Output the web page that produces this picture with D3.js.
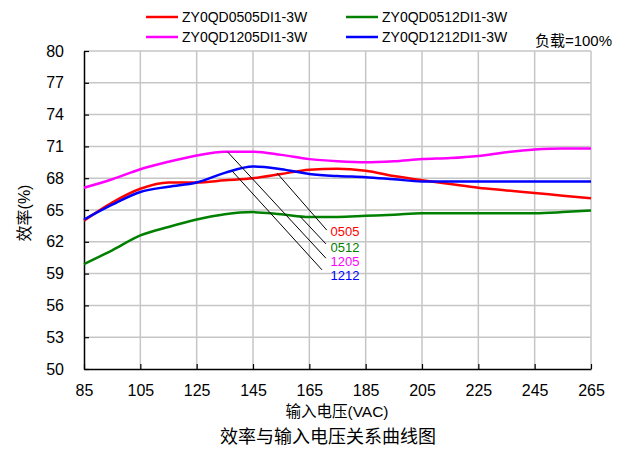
<!DOCTYPE html>
<html>
<head>
<meta charset="utf-8">
<script src="https://cdn.jsdelivr.net/npm/d3@7"></script>
<style>
  body { margin: 0; background: #fff; }
  text { font-family: "Liberation Sans", Arial, "Noto Sans CJK SC", sans-serif; }
  .cjk { font-family: "Liberation Sans", Arial, "Noto Sans CJK SC", sans-serif; }
</style>
</head>
<body>
<div id="canvas"></div>
<script>
width = 620;
height = 449;

// data
var volts = [85, 95, 105, 115, 125, 135, 145, 155, 165, 175, 185, 195, 205, 215, 225, 235, 245, 255, 265];
var eff0505 = [64.0, 65.7, 67.0, 67.6, 67.6, 67.8, 68.0, 68.4, 68.8, 68.9, 68.7, 68.2, 67.8, 67.45, 67.1, 66.85, 66.6, 66.35, 66.1];
var eff0512 = [59.9, 61.2, 62.6, 63.4, 64.1, 64.6, 64.8, 64.6, 64.35, 64.35, 64.45, 64.55, 64.7, 64.7, 64.7, 64.7, 64.7, 64.8, 64.95];
var eff1205 = [67.1, 67.9, 68.85, 69.55, 70.15, 70.5, 70.5, 70.2, 69.8, 69.6, 69.5, 69.6, 69.8, 69.9, 70.1, 70.45, 70.7, 70.8, 70.8];
var eff1212 = [64.1, 65.5, 66.7, 67.2, 67.6, 68.5, 69.1, 68.85, 68.4, 68.2, 68.1, 67.9, 67.7, 67.7, 67.7, 67.7, 67.7, 67.7, 67.7];

var seriesNames = ["ZY0QD0505DI1-3W", "ZY0QD0512DI1-3W", "ZY0QD1205DI1-3W", "ZY0QD1212DI1-3W"];
var shortNames = ["0505", "0512", "1205", "1212"];
var colors = ["#ff0000", "#008000", "#ff00ff", "#0000ff"];
var xTicks = [85, 105, 125, 145, 165, 185, 205, 225, 245, 265];
var yTicks = [50, 53, 56, 59, 62, 65, 68, 71, 74, 77, 80];

// leader lines: [volt, eff] on the curve -> [volt, eff] at the label
var leaderFrom = [[153.6, 68.46], [161.8, 64.37], [135.9, 70.5], [137.5, 68.7]];
var leaderTo = [[171.2, 63.1], [170.9, 61.8], [170.9, 60.45], [169.5, 59.35]];
var labelAt = [[172.5, 62.96], [172.5, 61.5], [172.5, 60.1], [172.5, 58.8]];

var allSeries = [eff0505, eff0512, eff1205, eff1212];

var margin = { left: 84, right: 29, top: 51, bottom: 80 };

var svg = d3.select("#canvas")
  .append("svg")
  .attr("width", width)
  .attr("height", height);

var x = d3.scaleLinear().domain([85, 265]).range([margin.left, width - margin.right]);
var y = d3.scaleLinear().domain([50, 80]).range([height - margin.bottom, margin.top]);

// grid
svg.append("g")
  .selectAll("line")
  .data(xTicks.slice(1))
  .join("line")
  .attr("x1", d => x(d)).attr("x2", d => x(d))
  .attr("y1", y(50)).attr("y2", y(80))
  .attr("stroke", "#c6c6c6")
  .attr("stroke-width", 1.5);

svg.append("g")
  .selectAll("line")
  .data(yTicks.slice(1))
  .join("line")
  .attr("x1", x(85)).attr("x2", x(265))
  .attr("y1", d => y(d)).attr("y2", d => y(d))
  .attr("stroke", "#c6c6c6")
  .attr("stroke-width", 1.5);

// axes
var xAxis = svg.append("g")
  .attr("transform", "translate(0," + y(50) + ")")
  .call(d3.axisBottom(x).tickValues(xTicks).tickSizeInner(-5).tickSizeOuter(0).tickPadding(22));
var yAxis = svg.append("g")
  .attr("transform", "translate(" + x(85) + ",0)")
  .call(d3.axisLeft(y).tickValues(yTicks).tickSizeInner(-5).tickSizeOuter(0).tickPadding(20));

[xAxis, yAxis].forEach(function (g) {
  g.select(".domain").attr("stroke", "#000").attr("stroke-width", 1.5);
  g.selectAll(".tick line").attr("stroke", "#000").attr("stroke-width", 1.2);
  g.selectAll(".tick text")
    .attr("fill", "#000")
    .style("font-size", "16px")
    .style("font-family", "'Liberation Sans', Arial, sans-serif");
});
xAxis.selectAll(".tick text").attr("dy", "0.32em");

// curves
var line = d3.line()
  .x((d, i) => x(volts[i]))
  .y(d => y(d))
  .curve(d3.curveMonotoneX);

svg.append("g")
  .selectAll("path")
  .data(allSeries)
  .join("path")
  .attr("d", d => line(d))
  .attr("fill", "none")
  .attr("stroke", (d, i) => colors[i])
  .attr("stroke-width", 2.5);

// leader lines and labels
svg.append("g")
  .selectAll("line")
  .data(leaderFrom)
  .join("line")
  .attr("x1", d => x(d[0])).attr("y1", d => y(d[1]))
  .attr("x2", (d, i) => x(leaderTo[i][0])).attr("y2", (d, i) => y(leaderTo[i][1]))
  .attr("stroke", "#000")
  .attr("stroke-width", 1);

svg.append("g")
  .selectAll("text")
  .data(labelAt)
  .join("text")
  .attr("x", d => x(d[0]))
  .attr("y", d => y(d[1]))
  .attr("dy", "0.35em")
  .attr("fill", (d, i) => colors[i])
  .style("font-size", "13px")
  .text((d, i) => shortNames[i]);

// legend
var legend = svg.append("g")
  .selectAll("g")
  .data(seriesNames)
  .join("g")
  .attr("transform", (d, i) => "translate(" + (146 + (i % 2) * 200) + "," + (17 + Math.floor(i / 2) * 20) + ")");

legend.append("line")
  .attr("x1", 0).attr("x2", 32)
  .attr("y1", 0).attr("y2", 0)
  .attr("stroke", (d, i) => colors[i])
  .attr("stroke-width", 2.5);

legend.append("text")
  .attr("x", 36)
  .attr("dy", "0.35em")
  .style("font-size", "14px")
  .text(d => d);

svg.append("text")
  .attr("class", "cjk")
  .attr("x", 612)
  .attr("y", 41)
  .attr("dy", "0.35em")
  .attr("text-anchor", "end")
  .style("font-size", "15px")
  .text("负载=100%");

// axis titles
svg.append("text")
  .attr("class", "cjk")
  .attr("transform", "translate(24,213) rotate(-90)")
  .attr("text-anchor", "middle")
  .attr("dy", "0.35em")
  .style("font-size", "16px")
  .text("效率(%)");

svg.append("text")
  .attr("class", "cjk")
  .attr("x", 337)
  .attr("y", 412)
  .attr("dy", "0.35em")
  .attr("text-anchor", "middle")
  .style("font-size", "15.5px")
  .text("输入电压(VAC)");

svg.append("text")
  .attr("class", "cjk")
  .attr("x", 328)
  .attr("y", 437)
  .attr("dy", "0.35em")
  .attr("text-anchor", "middle")
  .style("font-size", "18px")
  .text("效率与输入电压关系曲线图");
</script>
</body>
</html>
